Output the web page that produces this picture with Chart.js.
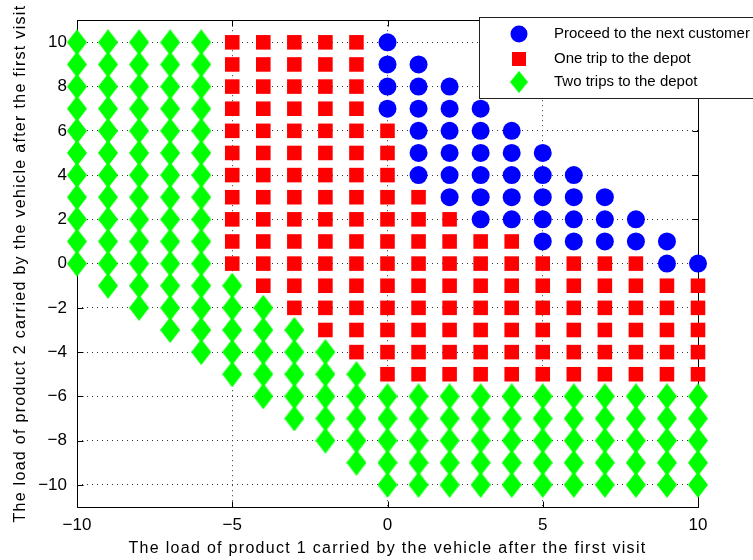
<!DOCTYPE html>
<html>
<head>
<meta charset="utf-8">
<script src="https://cdn.jsdelivr.net/npm/chart.js@4/dist/chart.umd.min.js"></script>
<style>
  html, body { margin: 0; padding: 0; background: #fff; }
  #wrap { width: 753px; height: 560px; }
</style>
</head>
<body>
<div id="wrap"><canvas id="c" width="753" height="560"></canvas></div>
<script>
// Load of product 1 (x) after the first visit, one entry per column
const xCols = [-10, -9, -8, -7, -6, -5, -4, -3, -2, -1, 0, 1, 2, 3, 4, 5, 6, 7, 8, 9, 10];

// Load of product 2 (y) for each column, by decision
const proceedY = [
  [], [], [], [], [], [], [], [], [], [],
  [7, 8, 9, 10],
  [4, 5, 6, 7, 8, 9],
  [3, 4, 5, 6, 7, 8],
  [2, 3, 4, 5, 6, 7],
  [2, 3, 4, 5, 6],
  [1, 2, 3, 4, 5],
  [1, 2, 3, 4],
  [1, 2, 3],
  [1, 2],
  [0, 1],
  [0]
];

const oneTripY = [
  [], [], [], [], [],
  [0, 1, 2, 3, 4, 5, 6, 7, 8, 9, 10],
  [-1, 0, 1, 2, 3, 4, 5, 6, 7, 8, 9, 10],
  [-2, -1, 0, 1, 2, 3, 4, 5, 6, 7, 8, 9, 10],
  [-3, -2, -1, 0, 1, 2, 3, 4, 5, 6, 7, 8, 9, 10],
  [-4, -3, -2, -1, 0, 1, 2, 3, 4, 5, 6, 7, 8, 9, 10],
  [-5, -4, -3, -2, -1, 0, 1, 2, 3, 4, 5, 6],
  [-5, -4, -3, -2, -1, 0, 1, 2, 3],
  [-5, -4, -3, -2, -1, 0, 1, 2],
  [-5, -4, -3, -2, -1, 0, 1],
  [-5, -4, -3, -2, -1, 0, 1],
  [-5, -4, -3, -2, -1, 0],
  [-5, -4, -3, -2, -1, 0],
  [-5, -4, -3, -2, -1, 0],
  [-5, -4, -3, -2, -1, 0],
  [-5, -4, -3, -2, -1],
  [-5, -4, -3, -2, -1]
];

const twoTripsY = [
  [0, 1, 2, 3, 4, 5, 6, 7, 8, 9, 10],
  [-1, 0, 1, 2, 3, 4, 5, 6, 7, 8, 9, 10],
  [-2, -1, 0, 1, 2, 3, 4, 5, 6, 7, 8, 9, 10],
  [-3, -2, -1, 0, 1, 2, 3, 4, 5, 6, 7, 8, 9, 10],
  [-4, -3, -2, -1, 0, 1, 2, 3, 4, 5, 6, 7, 8, 9, 10],
  [-5, -4, -3, -2, -1],
  [-6, -5, -4, -3, -2],
  [-7, -6, -5, -4, -3],
  [-8, -7, -6, -5, -4],
  [-9, -8, -7, -6, -5],
  [-10, -9, -8, -7, -6],
  [-10, -9, -8, -7, -6],
  [-10, -9, -8, -7, -6],
  [-10, -9, -8, -7, -6],
  [-10, -9, -8, -7, -6],
  [-10, -9, -8, -7, -6],
  [-10, -9, -8, -7, -6],
  [-10, -9, -8, -7, -6],
  [-10, -9, -8, -7, -6],
  [-10, -9, -8, -7, -6],
  [-10, -9, -8, -7, -6]
];

const seriesLabels = ['Proceed to the next customer', 'One trip to the depot', 'Two trips to the depot'];
const xTicks = [-10, -5, 0, 5, 10];
const yTicks = [-10, -8, -6, -4, -2, 0, 2, 4, 6, 8, 10];
const xTitle = 'The load of product 1 carried by the vehicle after the first visit';
const yTitle = 'The load of product 2 carried by the vehicle after the first visit';

const FONT = "'Liberation Sans', Arial, Helvetica, sans-serif";

function toPoints(cols) {
  const pts = [];
  cols.forEach((ys, i) => ys.forEach(y => pts.push({ x: xCols[i], y: y })));
  return pts;
}

// Tall diamond marker
function diamondMarker(w, h, color) {
  const c = document.createElement('canvas');
  c.width = w; c.height = h;
  const g = c.getContext('2d');
  g.fillStyle = color;
  g.beginPath();
  g.moveTo(w / 2, 0);
  g.lineTo(w, h / 2);
  g.lineTo(w / 2, h);
  g.lineTo(0, h / 2);
  g.closePath();
  g.fill();
  return c;
}
const diamond = diamondMarker(20, 26, '#00ff00');

const minus = v => String(v).replace('-', '\u2212');

// Box frame with inward tick marks
const framePlugin = {
  id: 'frame',
  beforeDatasetsDraw(chart) {
    const { ctx, chartArea: a, scales: { x, y } } = chart;
    const L = Math.round(a.left) + 0.5, R = Math.round(a.right) + 0.5;
    const T = Math.round(a.top) + 0.5, B = Math.round(a.bottom) + 0.5;
    const tl = 6;
    ctx.save();
    ctx.strokeStyle = '#000';
    ctx.lineWidth = 1;
    ctx.beginPath();
    ctx.rect(L, T, R - L, B - T);
    xTicks.forEach(v => {
      const px = Math.round(x.getPixelForValue(v)) + 0.5;
      ctx.moveTo(px, B); ctx.lineTo(px, B - tl);
      ctx.moveTo(px, T); ctx.lineTo(px, T + tl);
    });
    yTicks.forEach(v => {
      const py = Math.round(y.getPixelForValue(v)) + 0.5;
      ctx.moveTo(L, py); ctx.lineTo(L + tl, py);
      ctx.moveTo(R, py); ctx.lineTo(R - tl, py);
    });
    ctx.stroke();
    ctx.restore();
  }
};

// Axis titles, slightly letter-spaced
const titlePlugin = {
  id: 'axisTitles',
  afterDraw(chart) {
    const { ctx, chartArea: a } = chart;
    ctx.save();
    ctx.fillStyle = '#000';
    ctx.font = '16px ' + FONT;
    if ('letterSpacing' in ctx) ctx.letterSpacing = '1.3px';
    ctx.textAlign = 'center';
    ctx.textBaseline = 'alphabetic';
    ctx.fillText(xTitle, (a.left + a.right) / 2, 553);
    ctx.translate(25, (a.top + a.bottom) / 2);
    ctx.rotate(-Math.PI / 2);
    ctx.fillText(yTitle, 0, 0);
    ctx.restore();
  }
};

// Boxed legend in the upper right corner
const legendPlugin = {
  id: 'boxLegend',
  afterDraw(chart) {
    const { ctx } = chart;
    const bx = 479.5, by = 17.5, bw = 300, bh = 81;
    ctx.save();
    ctx.fillStyle = '#fff';
    ctx.fillRect(bx, by, bw, bh);
    ctx.strokeStyle = '#222';
    ctx.lineWidth = 1;
    ctx.strokeRect(bx, by, bw, bh);
    const rows = [34, 59, 82];
    const mx = 519, tx = 554;
    chart.data.datasets.forEach((ds, i) => {
      const cy = rows[i];
      const st = ds.pointStyle;
      ctx.fillStyle = ds.backgroundColor;
      if (st instanceof HTMLCanvasElement) {
        ctx.drawImage(st, mx - 9, cy - 11, 18, 22);
      } else if (st === 'rect') {
        ctx.fillRect(mx - 7, cy - 7, 14, 14);
      } else {
        ctx.beginPath();
        ctx.arc(mx, cy, 8.5, 0, Math.PI * 2);
        ctx.fill();
      }
      ctx.fillStyle = '#000';
      ctx.font = '15px ' + FONT;
      ctx.textBaseline = 'middle';
      ctx.textAlign = 'left';
      ctx.fillText(ds.label, tx, cy);
    });
    ctx.restore();
  }
};

const gridStyle = { color: '#333', lineWidth: 1, drawTicks: false };
const borderStyle = { display: false, dash: [1, 4] };

new Chart(document.getElementById('c'), {
  type: 'scatter',
  data: {
    datasets: [
      { label: seriesLabels[0], data: toPoints(proceedY), pointStyle: 'circle',
        backgroundColor: '#0000ff', borderColor: '#0000ff', pointRadius: 9, borderWidth: 0, clip: false },
      { label: seriesLabels[1], data: toPoints(oneTripY), pointStyle: 'rect',
        backgroundColor: '#ff0000', borderColor: '#ff0000', pointRadius: 10.3, borderWidth: 0, clip: false },
      { label: seriesLabels[2], data: toPoints(twoTripsY), pointStyle: diamond,
        backgroundColor: '#00ff00', borderColor: '#00ff00', pointRadius: 10, borderWidth: 0, clip: false }
    ]
  },
  options: {
    responsive: false,
    animation: false,
    events: [],
    layout: { padding: { top: 16, right: 55, left: 0, bottom: 0 } },
    plugins: { legend: { display: false }, tooltip: { enabled: false } },
    scales: {
      x: {
        type: 'linear', min: -10, max: 10,
        afterBuildTicks: s => { s.ticks = xTicks.map(v => ({ value: v })); },
        afterFit: s => { s.height = 53; },
        grid: gridStyle, border: borderStyle,
        ticks: { color: '#000', font: { family: FONT, size: 17 }, padding: 8, callback: v => minus(v), maxRotation: 0 },
        title: { display: false }
      },
      y: {
        type: 'linear', min: -11, max: 11,
        afterBuildTicks: s => { s.ticks = yTicks.map(v => ({ value: v })); },
        afterFit: s => { s.width = 77; },
        grid: gridStyle, border: borderStyle,
        ticks: { color: '#000', font: { family: FONT, size: 17 }, padding: 10, callback: v => minus(v) },
        title: { display: false }
      }
    }
  },
  plugins: [framePlugin, titlePlugin, legendPlugin]
});
</script>
</body>
</html>
